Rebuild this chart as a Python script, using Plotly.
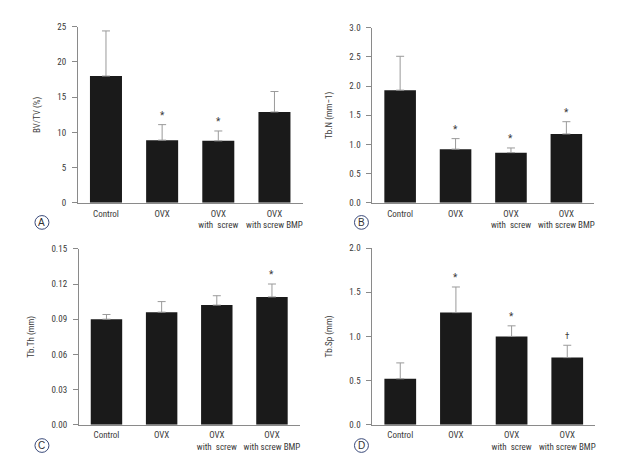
import plotly.graph_objects as go

W, H = 641, 467
OFF = 8  # page body margin offset

categories = ["Control", "OVX", "OVX<br>with  screw", "OVX<br>with screw BMP"]

bvtv_mean = [18.0, 8.9, 8.8, 12.9]
bvtv_err = [6.4, 2.2, 1.4, 2.9]
bvtv_marks = ["", "*", "*", ""]

tbn_mean = [1.93, 0.92, 0.86, 1.18]
tbn_err = [0.58, 0.18, 0.08, 0.21]
tbn_marks = ["", "*", "*", "*"]

tbth_mean = [0.090, 0.096, 0.102, 0.109]
tbth_err = [0.004, 0.009, 0.008, 0.011]
tbth_marks = ["", "", "", "*"]

tbsp_mean = [0.52, 1.27, 1.00, 0.76]
tbsp_err = [0.18, 0.29, 0.12, 0.14]
tbsp_marks = ["", "*", "*", "†"]

panels = [
    dict(mean=bvtv_mean, err=bvtv_err, marks=bvtv_marks, title="BV/TV (%)",
         rng=[0, 25], dtick=5, fmt="d", px=(78, 303), py=(22, 202), letter="A", lpos=(42, 222)),
    dict(mean=tbn_mean, err=tbn_err, marks=tbn_marks, title="Tb.N (mm−1)",
         rng=[0, 3], dtick=0.5, fmt=".1f", px=(373, 595), py=(23, 202), letter="B", lpos=(362, 222)),
    dict(mean=tbth_mean, err=tbth_err, marks=tbth_marks, title="Tb.Th (mm)",
         rng=[0, 0.15], dtick=0.03, fmt=".2f", px=(79, 300), py=(249, 428.7), letter="C", lpos=(42, 450)),
    dict(mean=tbsp_mean, err=tbsp_err, marks=tbsp_marks, title="Tb.Sp (mm)",
         rng=[0, 2], dtick=0.5, fmt=".1f", px=(373, 596), py=(248.3, 428.7), letter="D", lpos=(362, 450)),
]

FONT = "Liberation Sans Narrow, Roboto Condensed, Arial Narrow, sans-serif"
TXT = "#3a3a3a"
AX = "#8a8a8a"

fig = go.Figure()
annotations = []
shapes = []

for i, p in enumerate(panels):
    n = i + 1
    xa = "x" if n == 1 else f"x{n}"
    ya = "y" if n == 1 else f"y{n}"
    fig.add_trace(go.Bar(
        x=categories, y=p["mean"], xaxis=xa, yaxis=ya,
        width=0.57, marker=dict(color="#1a1a1a", line=dict(width=0)),
        error_y=dict(type="data", symmetric=False, array=p["err"],
                     arrayminus=[0] * 4, color="#9a9a9a", thickness=1, width=4),
        showlegend=False,
    ))
    xk = "xaxis" if n == 1 else f"xaxis{n}"
    yk = "yaxis" if n == 1 else f"yaxis{n}"
    x0, x1 = p["px"][0] - OFF, p["px"][1] - OFF
    y0, y1 = p["py"][0] - OFF, p["py"][1] - OFF
    fig.update_layout({
        xk: dict(domain=[x0 / W, x1 / W], anchor=ya, range=[-0.5, 3.5],
                 showline=True, linecolor=AX, linewidth=1, ticks="",
                 tickfont=dict(family=FONT, size=9, color=TXT), showgrid=False,
                 zeroline=False, fixedrange=True, ticklabelstandoff=2),
        yk: dict(domain=[(H - y1) / H, (H - y0) / H], anchor=xa, range=p["rng"],
                 dtick=p["dtick"], tick0=0, tickformat=p["fmt"],
                 showline=True, linecolor=AX, linewidth=1, ticks="outside",
                 ticklen=5, tickcolor=AX, showgrid=False, zeroline=False,
                 ticklabelstandoff=4,
                 tickfont=dict(family=FONT, size=9, color=TXT),
                 title=dict(text=p["title"], font=dict(family=FONT, size=9, color=TXT), standoff=15),
                 fixedrange=True),
    })
    for c, m, e, mk in zip(categories, p["mean"], p["err"], p["marks"]):
        if mk:
            annotations.append(dict(
                x=c, y=m + e, xref=xa, yref=ya, text=mk, showarrow=False,
                yanchor="bottom", yshift=2,
                font=dict(family=FONT, size=10 if mk == "*" else 9, color=TXT)))
    lx, ly = p["lpos"][0] - OFF, p["lpos"][1] - OFF
    r = 7
    shapes.append(dict(type="circle", xref="paper", yref="paper",
                       x0=(lx - r) / W, x1=(lx + r) / W,
                       y0=(H - ly - r) / H, y1=(H - ly + r) / H,
                       line=dict(color="#3a4a7a", width=1)))
    annotations.append(dict(x=lx / W, y=(H - ly) / H, xref="paper", yref="paper",
                            text=p["letter"], showarrow=False,
                            xanchor="center", yanchor="middle",
                            font=dict(family="Liberation Sans, Arial, sans-serif", size=10, color="#333")))

fig.update_layout(width=W, height=H, margin=dict(l=0, r=0, t=0, b=0),
                  paper_bgcolor="white", plot_bgcolor="white",
                  annotations=annotations, shapes=shapes, bargap=0.43)

fig.write_html("out.html")
